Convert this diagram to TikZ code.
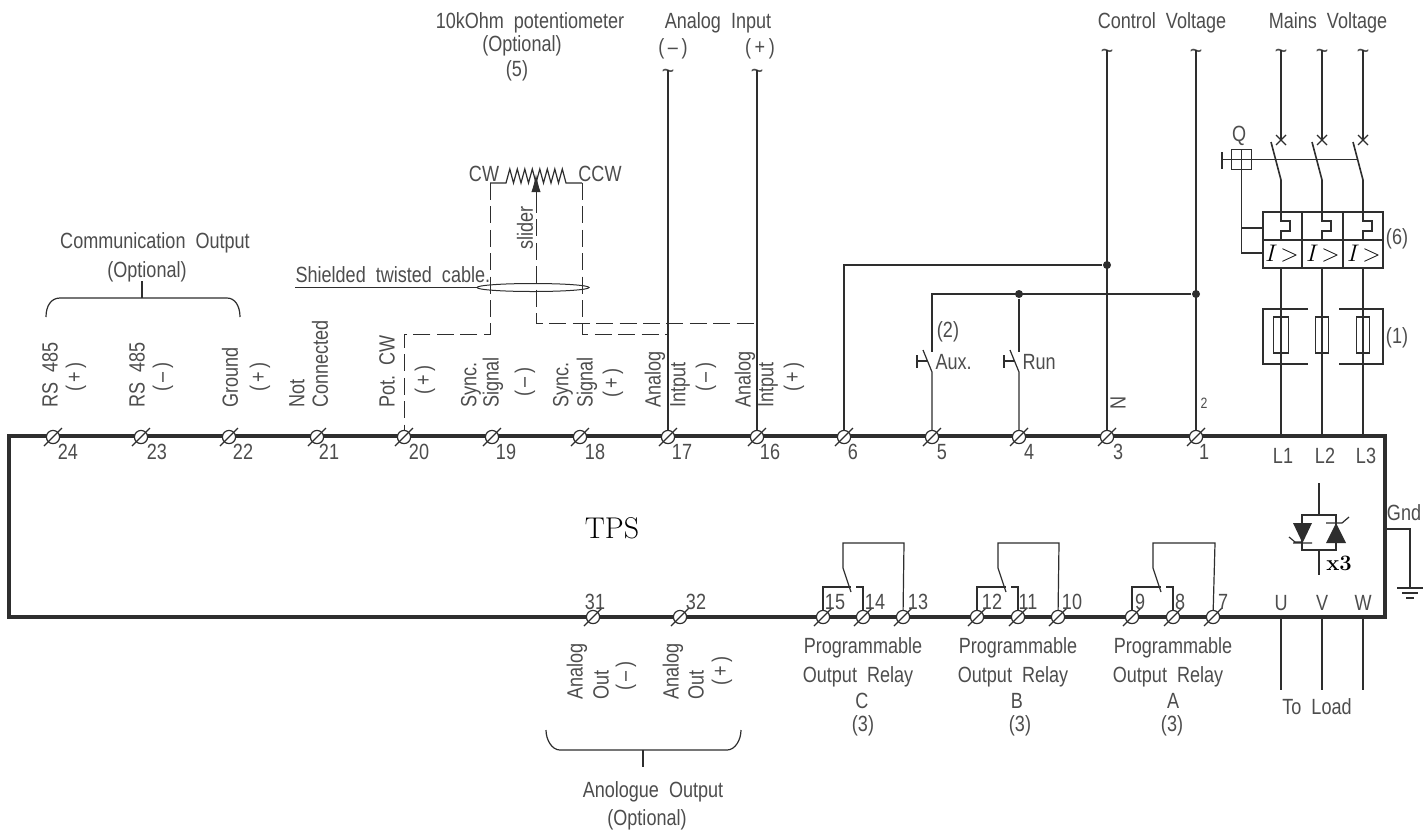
\documentclass[tikz,border=0pt]{standalone}
\usepackage{fontspec}
\usetikzlibrary{shapes.geometric,arrows.meta}
\newfontfamily\cadfont[FakeStretch=0.82]{Liberation Sans}
\definecolor{ink}{gray}{0.18}
\begin{document}
\begin{tikzpicture}[x=0.5pt,y=-0.5pt,line width=0.6pt,draw=ink,
        txt/.style={font=\cadfont\fontsize{11}{11}\selectfont,text=ink!85,inner sep=0pt},
        vtxt/.style={txt,rotate=90,anchor=west},
        ptxt/.style={txt,rotate=90},
        term/.style={circle,draw,fill=white,inner sep=0pt,minimum size=6.6pt},
        dotj/.style={circle,fill=ink,inner sep=0pt,minimum size=4pt},
        cabl/.style={line width=0.5pt,dash pattern=on 8.5pt off 3.2pt}]
    \useasboundingbox (0,0) rectangle (1423,832);
    \fill[white] (0,0) rectangle (1423,832);
    \draw[line width=1.7pt] (9,436) rectangle (1385,617);
    \node[font=\fontsize{15}{15}\selectfont,inner sep=0pt] (tps) at (612,528) {TPS};
    % terminals
    \foreach \n/\x/\lx in {24/53/68,23/141/157,22/229/243,21/317/329,20/404/419,19/492/506,18/580/595,17/668/682,16/757/770,6/844/853,5/932/942,4/1019/1029,3/1107/1118,1/1196/1204}{
        \node[term] (t\n) at (\x,437) {};
        \draw (\x-9,446)--(\x+9,428);
        \node[txt] (n\n) at (\lx,452) {\n};
    }
    \foreach \n/\x/\lx in {31/593/595,32/680/696,15/823/835,14/863/875,13/903/918,12/977/992,11/1018/1028,10/1058/1072,9/1132/1140,8/1173/1180,7/1213/1223}{
        \node[term] (t\n) at (\x,617) {};
        \draw (\x-9,626)--(\x+9,608);
        \node[txt] (n\n) at (\lx,602) {\n};
    }
    % upright side texts on the top row
    \foreach \txtv/\x [count=\i] in {RS\ \ 485/50,RS\ \ 485/137,Ground/230,Not/297,Connected/320,Pot.\ \ CW/387,Sync./471,Signal/493,Sync./563,Signal/587,Analog/655,Intput/680,Analog/745,Intput/768}{
        \node[vtxt] (v\i) at (\x,408) {\txtv};
    }
    \foreach \txtv/\x/\y [count=\i] in {(\,+\,)/76/377,(\,–\,)/163/377,(\,+\,)/260/377,(\,+\,)/425/380,(\,–\,)/525/382,(\,+\,)/613/383,(\,–\,)/706/377,(\,+\,)/794/377,(\,–\,)/626/676,(\,+\,)/722/671}{
        \node[ptxt] (p\i) at (\x,\y) {\txtv};
    }
    \foreach \txtv/\x [count=\i] in {Analog/577,Out/601,Analog/673,Out/696}{
        \node[vtxt] (b\i) at (\x,700) {\txtv};
    }
    \node[ptxt] (nn) at (1118,403) {N};
    \node[txt,font=\cadfont\fontsize{7.5}{7.5}\selectfont] (ll) at (1204,403) {2};
    % headings
    \node[txt] (pot) at (530,23) {10kOhm\ \ potentiometer};
    \node[txt] (potb) at (522,46) {(Optional)};
    \node[txt] (potc) at (517,71) {(5)};
    \node[txt] (ana) at (718,23) {Analog\ \ Input};
    \node[txt] (anam) at (673,49) {(\,–\,)};
    \node[txt] (anap) at (760,49) {(\,+\,)};
    \node[txt] (ctl) at (1162,23) {Control\ \ Voltage};
    \node[txt] (mns) at (1328,23) {Mains\ \ Voltage};
    \node[txt] (com) at (155,243) {Communication\ \ Output};
    \node[txt] (comb) at (147,272) {(Optional)};
    \node[txt] (aog) at (653,792) {Anologue\ \ Output};
    \node[txt] (aogb) at (647,820) {(Optional)};
    \node[txt] (cw) at (484,174) {CW};
    \node[txt] (ccw) at (600,174) {CCW};
    \node[ptxt] (sld) at (525,228) {slider};
    \node[txt,anchor=west] (shd) at (295,275) {Shielded\ \ twisted\ \ cable.};
    % tildes
    \foreach \i/\x/\y in {a/668/70,b/757/70,c/1107/50,d/1196/50,e/1281/50,f/1322/50,g/1363/50}{
        \coordinate (w\i) at (\x,\y);
        \node[txt,font=\cadfont\fontsize{13}{13}\selectfont] (s\i) at (\x,\y+4) {\textasciitilde};
    }
    % analog and control wires
    \draw (wa)--(t17);
    \draw (wb)--(t16);
    \draw (wc)--(t3);
    \draw (wd)--(t1);
    \node[dotj] (j1) at (1107,265) {};
    \node[dotj] (j2) at (1196,294) {};
    \node[dotj] (j3) at (1019,294) {};
    \draw (t6)|-(j1);
    \coordinate (k5) at (932,294);
    \draw (j2)--(k5)--(932,352);
    \draw (j3)--(1019,352);
    \foreach \x/\k/\txtv in {932/5/Aux.,1019/4/Run}{
        \draw (t\k)--(\x,372)--(\x-9,350);
        \draw (\x-15,355)--(\x-15,368) (\x-15,361)--(\x-5,361);
        \node[txt,anchor=west] (c\k) at (\x+3,362) {\txtv};
    }
    \node[txt] (aux) at (948,332) {(2)};
    % potentiometer
    \coordinate (pl) at (490,183);
    \coordinate (pr) at (582,183);
    \coordinate (ps) at (536,196);
    \coordinate (pt) at (536,174);
    \draw (pl)--(506,183) \foreach \i in {0,...,7} {--(509.8+\i*7.5,169)--(513.5+\i*7.5,183)}--(pr);
    \draw[cabl] (pl)--(490,334)-|(t20);
    \draw[cabl] (pr)--(582,334)--(668,334);
    \draw[cabl] (ps)--(536,323)--(757,323);
    \draw[-{Latex[length=9pt,width=4.6pt]},line width=0.5pt] (ps)--(pt);
    \coordinate (sh) at (295,287.5);
    \node[draw,ellipse,inner sep=0pt,minimum width=56pt,minimum height=4pt,line width=0.5pt] (shield) at (533,287.5) {};
    \draw (sh)--(shield.west);
    % braces
    \draw (46,317) .. controls (46,306) and (51,298) .. (60,298)--(227,298) .. controls (235,298) and (240,306) .. (240,317);
    \draw (142,298)--(142,281);
    \draw (546,730) .. controls (546,740) and (552,750) .. (560,750)--(727,750) .. controls (735,750) and (741,740) .. (741,730);
    \draw (643,750)--(643,767);
    % mains side
    \node[txt] (qq) at (1239,136) {Q};
    \node[draw,minimum size=9.8pt,inner sep=0pt] (qb) at (1241.5,159.5) {};
    \draw (qb.north)--(qb.south) (qb.west)--(qb.east);
    \coordinate (qe) at (1222,159.5);
    \coordinate (qf) at (1357,159.5);
    \draw (1222,152)--(1222,169);
    \draw (qe)--(qf);
    \draw (qb.south)--(1241.5,253)--(1263,253) (1241.5,228)--(1263,228);
    \draw (1263,212) rectangle (1383,268);
    \draw (1263,240)--(1383,240) (1302,212)--(1302,268) (1343,212)--(1343,268);
    \foreach \x/\i/\m/\fw in {1281/1/e/7.2,1322/2/f/6.2,1363/3/g/6.2}{
        \node[draw,minimum width=\fw pt,minimum height=18pt,inner sep=0pt] (fu\i) at (\x,335) {};
        \coordinate (L\i) at (\x,436);
        \coordinate (Lt\i) at (\x,268);
        \coordinate (Cr\i) at (\x,140);
        \draw[line width=0.8pt] (w\m)--(Cr\i);
        \draw (\x-5,135)--(\x+5,145) (\x-5,145)--(\x+5,135);
        \draw[line width=0.8pt] (\x-10,142)--(\x,180)--(\x,221)--(\x+9,221)--(\x+9,231)--(\x,231)--(\x,240);
        \draw (Lt\i)--(fu\i.north) (fu\i.north)--(fu\i.south) (fu\i.south)--(L\i);
        \node[font=\fontsize{13}{13}\selectfont,inner sep=0pt] (ov\i) at (\x+1,254) {$I\!>$};
        \coordinate (Lb\i) at (\x,617);
        \coordinate (Le\i) at (\x,690);
        \draw (Lb\i)--(Le\i);
    }
    \draw (1308,309)-|(1263,364)--(1308,364);
    \draw (1339,309)-|(1383,364)--(1339,364);
    \node[txt] (six) at (1397,239) {(6)};
    \node[txt] (one) at (1397,338) {(1)};
    \node[txt] (l1) at (1283,456) {L1};
    \node[txt] (l2) at (1325,456) {L2};
    \node[txt] (l3) at (1366,456) {L3};
    \node[txt] (uu) at (1281,603) {U};
    \node[txt] (vv) at (1322,603) {V};
    \node[txt] (ww) at (1363,603) {W};
    \node[txt] (load) at (1317,707) {To\ \ Load};
    % thyristors
    \coordinate (ta) at (1319,483);
    \coordinate (tb) at (1319,515);
    \coordinate (tc) at (1319,550);
    \coordinate (td) at (1319,575);
    \draw (ta)--(tb) (tc)--(td);
    \draw (1302,515) rectangle (1336,550);
    \fill[ink] (1293,523)--(1312,523)--(1302.5,543)--cycle;
    \fill[ink] (1326,543)--(1346,543)--(1336,523)--cycle;
    \draw (1293,543)--(1312,543) (1289,537)--(1295,542)--(1302,542);
    \draw (1326,523)--(1342,523)--(1349,517);
    \node[font=\bfseries\fontsize{11}{11}\selectfont,inner sep=0pt] (x3) at (1339,563) {x3};
    % ground
    \node[txt] (gnd) at (1404,513) {Gnd};
    \coordinate (ga) at (1385,529);
    \coordinate (gb) at (1410,588);
    \draw (ga)-|(gb);
    \draw (1397,588)--(1423,588) (1402,593)--(1418,593) (1406,598)--(1414,598);
    % relays
    \foreach \ra/\rb/\rc/\rl/\rr/\rn/\xa/\xb/\xc/\xd in {15/14/13/843/904/C/863/858/862/863,12/11/10/998/1059/B/1018/1013/1017/1020,9/8/7/1153/1215/A/1173/1168/1173/1172}{
        \draw (t\rc)--(\rr,543)--(\rl,543)--(\rl,568)--(\rl+8,592);
        \draw (t\ra)|-(\rl+8,587);
        \draw (t\rb)|-(\rl+13,587);
        \node[txt] (r\rn a) at (\xa,648) {Programmable};
        \node[txt] (r\rn b) at (\xb,677) {Output\ \ Relay};
        \node[txt] (r\rn c) at (\xc,701) {\rn};
        \node[txt] (r\rn d) at (\xd,726) {(3)};
    }
\end{tikzpicture}
\end{document}
